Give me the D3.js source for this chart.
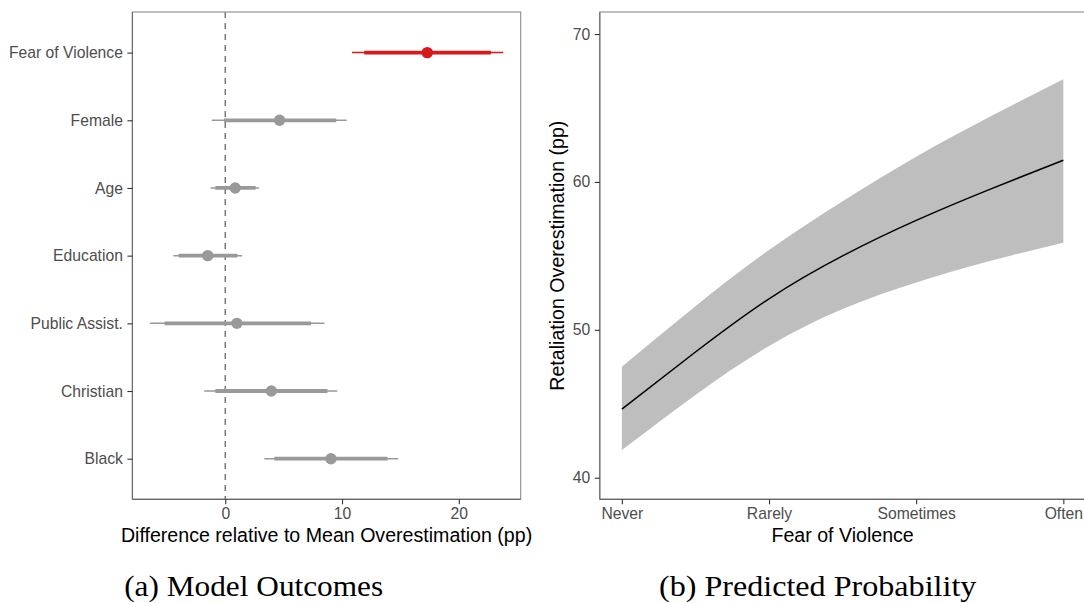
<html>
<head>
<meta charset="UTF-8"/>
<script src="https://d3js.org/d3.v7.min.js"></script>
<title>fear of violence</title>
<style>
body{margin:0;background:#fff;}
text{font-family:'Liberation Sans', Arial, sans-serif;}
.axtitle{fill:#000;font-size:19.6px;}
.caption{font-family:'Liberation Serif', serif;font-size:28.5px;fill:#000;}
</style>
</head>
<body>
<svg id='big' width=1084 height=603></svg>
<script>
'use strict';

// (a) model outcomes
var terms = ['Fear of Violence', 'Female', 'Age', 'Education', 'Public Assist.', 'Christian', 'Black'];
var estimate = [17.3, 4.65, 0.85, -1.5, 1.0, 3.95, 9.05];
var lo95 = [10.85, -1.15, -1.25, -4.45, -6.45, -1.8, 3.35];
var hi95 = [23.8, 10.4, 2.9, 1.45, 8.5, 9.6, 14.8];
var lo90 = [11.9, -0.1, -0.85, -4.0, -5.2, -0.85, 4.2];
var hi90 = [22.75, 9.5, 2.6, 1.05, 7.35, 8.75, 13.9];
var highlight = ['Fear of Violence'];
var xTicksA = [0, 10, 20];

// (b) predicted probability
var fearLevels = ['Never', 'Rarely', 'Sometimes', 'Often'];
var fearX = [1, 1.5, 2, 2.5, 3, 3.5, 4];
var predFit = [44.64, 48.5, 52.1, 55.0, 57.4, 59.5, 61.47];
var predLo = [41.87, 45.6, 48.9, 51.4, 53.2, 54.65, 55.88];
var predHi = [47.5, 51.6, 55.4, 58.7, 61.7, 64.4, 66.94];
var yTicksB = [40, 50, 60, 70];

var svg = d3.select('#big');

function styleAxis(g){
	g.select('.domain').remove();
	g.selectAll('.tick line').attr('stroke', '#333').attr('stroke-width', 1.1);
	g.selectAll('.tick text')
	.attr('fill', '#4d4d4d')
	.attr('font-size', '15.7px')
	.attr('font-family', "'Liberation Sans', Arial, sans-serif");
}

function frame(x0, x1, y0, y1){
	svg.append('rect')
	.attr('x', x0).attr('y', y0)
	.attr('width', x1 - x0).attr('height', y1 - y0)
	.attr('fill', 'none')
	.attr('stroke', '#8c8c8c')
	.attr('stroke-width', 1.1);
	svg.append('line')
	.attr('x1', x0).attr('x2', x1).attr('y1', y1).attr('y2', y1)
	.attr('stroke', '#555').attr('stroke-width', 1.1);
	svg.append('line')
	.attr('x1', x0).attr('x2', x0).attr('y1', y0).attr('y2', y1)
	.attr('stroke', '#6a6a6a').attr('stroke-width', 1.1);
}

function drawA(){
	var left = 132.4, right = 520.7, top = 12, bottom = 499.3;
	var sx = d3.scaleLinear().domain([-7.95, 25.3]).range([left, right]);
	var sy = d3.scalePoint().domain(terms).range([top, bottom]).padding(0.6);

	svg.append('line')
	.attr('x1', sx(0)).attr('x2', sx(0))
	.attr('y1', top).attr('y2', bottom)
	.attr('stroke', '#666')
	.attr('stroke-width', 1.3)
	.attr('stroke-dasharray', '6,5');

	var rows = terms.map(function(t, i){
		return {term: t, est: estimate[i], lo95: lo95[i], hi95: hi95[i], lo90: lo90[i], hi90: hi90[i]};
	});
	var colour = function(d){
		return highlight.indexOf(d.term) >= 0 ? '#d7191c' : '#999999';
	};

	var g = svg.selectAll('.coef')
	.data(rows)
	.enter()
	.append('g')
	.attr('class', 'coef');

	g.append('line')
	.attr('x1', function(d){ return sx(d.lo95); })
	.attr('x2', function(d){ return sx(d.hi95); })
	.attr('y1', function(d){ return sy(d.term); })
	.attr('y2', function(d){ return sy(d.term); })
	.attr('stroke', colour)
	.attr('stroke-width', 1.5);

	g.append('line')
	.attr('x1', function(d){ return sx(d.lo90); })
	.attr('x2', function(d){ return sx(d.hi90); })
	.attr('y1', function(d){ return sy(d.term); })
	.attr('y2', function(d){ return sy(d.term); })
	.attr('stroke', colour)
	.attr('stroke-width', 3.8);

	g.append('circle')
	.attr('cx', function(d){ return sx(d.est); })
	.attr('cy', function(d){ return sy(d.term); })
	.attr('r', 5.7)
	.attr('fill', colour);

	frame(left, right, top, bottom);

	svg.append('g')
	.attr('transform', 'translate(0,' + bottom + ')')
	.call(d3.axisBottom(sx).tickValues(xTicksA).tickSize(5).tickPadding(4))
	.call(styleAxis);

	svg.append('g')
	.attr('transform', 'translate(' + left + ',0)')
	.call(d3.axisLeft(sy).tickSize(5).tickPadding(4.5))
	.call(styleAxis);

	svg.append('text')
	.attr('class', 'axtitle')
	.attr('x', (left + right) / 2)
	.attr('y', 541.7)
	.attr('text-anchor', 'middle')
	.text('Difference relative to Mean Overestimation (pp)');

	svg.append('text')
	.attr('class', 'caption')
	.attr('x', 253.7)
	.attr('y', 596)
	.attr('text-anchor', 'middle')
	.attr('textLength', 259)
	.attr('lengthAdjust', 'spacingAndGlyphs')
	.text('(a) Model Outcomes');
}

function drawB(){
	var left = 599.8, right = 1085.4, top = 12, bottom = 499.3;
	var sx = d3.scaleLinear().domain([0.85, 4.15]).range([left, right]);
	var sy = d3.scaleLinear().domain([38.54, 71.49]).range([bottom, top]);

	var pts = fearX.map(function(x, i){
		return {x: x, fit: predFit[i], lo: predLo[i], hi: predHi[i]};
	});

	svg.append('path')
	.datum(pts)
	.attr('fill', '#bebebe')
	.attr('d', d3.area()
		.x(function(d){ return sx(d.x); })
		.y0(function(d){ return sy(d.lo); })
		.y1(function(d){ return sy(d.hi); })
		.curve(d3.curveNatural));

	svg.append('path')
	.datum(pts)
	.attr('fill', 'none')
	.attr('stroke', '#000')
	.attr('stroke-width', 1.5)
	.attr('d', d3.line()
		.x(function(d){ return sx(d.x); })
		.y(function(d){ return sy(d.fit); })
		.curve(d3.curveNatural));

	frame(left, right, top, bottom);

	svg.append('g')
	.attr('transform', 'translate(0,' + bottom + ')')
	.call(d3.axisBottom(sx)
		.tickValues([1, 2, 3, 4])
		.tickFormat(function(d){ return fearLevels[d - 1]; })
		.tickSize(5).tickPadding(4))
	.call(styleAxis);

	svg.append('g')
	.attr('transform', 'translate(' + left + ',0)')
	.call(d3.axisLeft(sy).tickValues(yTicksB).tickSize(5).tickPadding(4.5))
	.call(styleAxis);

	svg.append('text')
	.attr('class', 'axtitle')
	.attr('x', (left + right) / 2)
	.attr('y', 541.7)
	.attr('text-anchor', 'middle')
	.text('Fear of Violence');

	svg.append('text')
	.attr('class', 'axtitle')
	.attr('transform', 'translate(563.5,' + (top + bottom) / 2 + ') rotate(-90)')
	.attr('text-anchor', 'middle')
	.text('Retaliation Overestimation (pp)');

	svg.append('text')
	.attr('class', 'caption')
	.attr('x', 817.7)
	.attr('y', 596)
	.attr('text-anchor', 'middle')
	.attr('textLength', 317.5)
	.attr('lengthAdjust', 'spacingAndGlyphs')
	.text('(b) Predicted Probability');
}

drawA();
drawB();
</script>
</body>
</html>
